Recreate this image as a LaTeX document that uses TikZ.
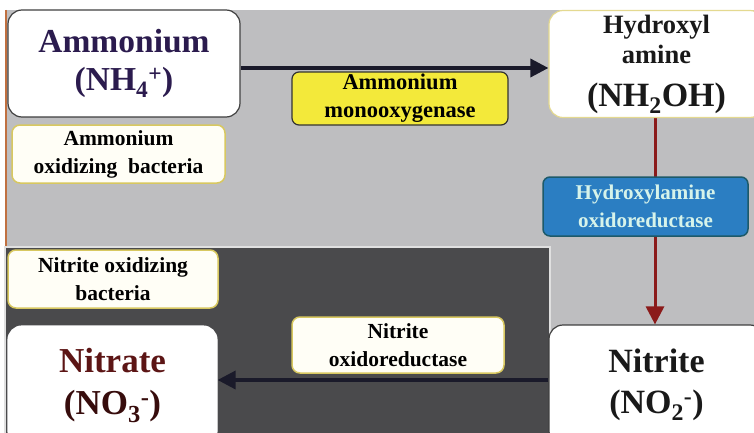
\documentclass[tikz,border=0pt]{standalone}
\usepackage{fontspec}
\setmainfont{Liberation Serif}
\usetikzlibrary{arrows.meta}
\pgfdeclarelayer{bg}
\pgfdeclarelayer{mid}
\pgfsetlayers{bg,mid,main}
\definecolor{bggray}{HTML}{BEBEC0}
\definecolor{darkbg}{HTML}{4A4A4C}
\definecolor{navy}{HTML}{2B1B4E}
\definecolor{nitred}{HTML}{5C1515}
\definecolor{arrowblk}{HTML}{1A1A2A}
\definecolor{arrowred}{HTML}{8B1A1A}
\definecolor{amoyel}{HTML}{F3E93A}
\definecolor{haoblue}{HTML}{2B7EC2}
\definecolor{haoedge}{HTML}{1D5A6A}
\definecolor{haotext}{HTML}{D6F3EA}
\definecolor{cream}{HTML}{FFFEF6}
\definecolor{creamedge}{HTML}{D8C860}
\definecolor{leftedge}{HTML}{C07040}
\tikzset{
  bigbox/.style={fill=white, draw=#1, line width=1.2pt, rounded corners=14pt, align=center, inner sep=0pt, font=\bfseries},
  labbox/.style={fill=cream, draw=creamedge, line width=1.5pt, rounded corners=8pt, align=center, inner sep=0pt, font=\bfseries\fontsize{21.5}{28}\selectfont},
  amobox/.style={fill=amoyel, draw=black!80, line width=1.2pt, rounded corners=7pt, align=center, inner sep=0pt, font=\bfseries\fontsize{22.5}{28}\selectfont},
  haobox/.style={fill=haoblue, draw=haoedge, line width=1.5pt, rounded corners=7pt, align=center, inner sep=0pt, text=haotext, font=\bfseries\fontsize{21}{28}\selectfont},
  blkarrow/.style={draw=arrowblk, line width=3.5pt, -{Triangle[length=18pt,width=18pt]}},
  redarrow/.style={draw=arrowred, line width=3pt, -{Triangle[length=18pt,width=18pt]}}
}
\begin{document}
\begin{tikzpicture}[x=1pt,y=-1pt]
\clip (0,0) rectangle (754,433);
\begin{pgfonlayer}{bg}
  \fill[white] (0,0) rectangle (754,433);
  \fill[bggray] (5,10) rectangle (754,433);
  \draw[draw=black!12, line width=2pt, fill=darkbg] (5,247) rectangle (550,440);
  \draw[draw=leftedge, line width=2pt] (6,10) -- (6,246);
\end{pgfonlayer}
% boxes
\node[bigbox=black!75, text=navy, font=\bfseries\fontsize{33.5}{38}\selectfont, minimum width=232pt, minimum height=107pt] (amm) at (124,63.5)
  {Ammonium\\(NH\textsubscript{4}\textsuperscript{+})};
\node[labbox, minimum width=213pt, minimum height=58pt] (aob) at (118.5,154)
  {Ammonium\\oxidizing\ \ bacteria};
\node[amobox, minimum width=216pt, minimum height=53pt] (amo) at (400,98.5)
  {Ammonium\\monooxygenase};
\node[bigbox=creamedge!70, text=black!90, font=\bfseries\fontsize{26.5}{30}\selectfont, minimum width=215pt, minimum height=107pt] (hyd) at (656.5,64)
  {Hydroxyl\\amine\\[13pt]\fontsize{34}{36}\selectfont(NH\textsubscript{2}OH)};
\node[haobox, minimum width=205pt, minimum height=59pt] (hao) at (645.5,206.5)
  {Hydroxylamine\\oxidoreductase};
\node[bigbox=black!75, text=black!90, font=\bfseries\fontsize{34}{41}\selectfont, minimum width=215pt, minimum height=120pt] (nitrite) at (656.5,385)
  {Nitrite\\(NO\textsubscript{2}\textsuperscript{-})};
\node[bigbox=white, text=nitred, font=\bfseries\fontsize{35}{42}\selectfont, minimum width=209pt, minimum height=119pt] (nitrate) at (112.5,385.5)
  {Nitrate\\\color{nitred!60!black}(NO\textsubscript{3}\textsuperscript{-})};
\node[labbox, minimum width=210pt, minimum height=58pt] (nob) at (113,279)
  {Nitrite oxidizing\\bacteria};
\node[labbox, minimum width=212pt, minimum height=56pt] (nor) at (398,345)
  {Nitrite\\oxidoreductase};
% connectors
\begin{pgfonlayer}{mid}
  \draw[blkarrow] ([yshift=-4.5pt]amm.east) -- ([yshift=-4pt]hyd.west);
  \draw[redarrow] ([xshift=-1.5pt]hyd.south) -- ([xshift=-1.5pt]nitrite.north);
  \draw[blkarrow] ([yshift=5pt]nitrite.west) -- ([yshift=5.5pt]nitrate.east);
\end{pgfonlayer}
\end{tikzpicture}
\end{document}
